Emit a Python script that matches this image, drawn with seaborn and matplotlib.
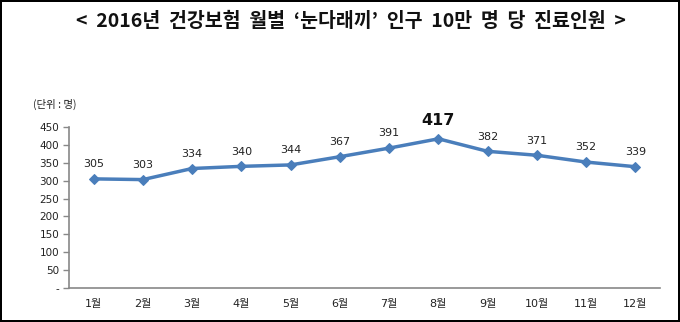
import matplotlib
matplotlib.use("Agg")
import matplotlib.pyplot as plt
import seaborn as sns
import pandas as pd
import numpy as np

months = ["1월", "2월", "3월", "4월", "5월", "6월", "7월", "8월", "9월", "10월", "11월", "12월"]
values = [305, 303, 334, 340, 344, 367, 391, 417, 382, 371, 352, 339]
yticks = [0, 50, 100, 150, 200, 250, 300, 350, 400, 450]
ytick_labels = ["-", "50", "100", "150", "200", "250", "300", "350", "400", "450"]

sns.set_theme(style="white")
plt.rcParams['font.family'] = ['DejaVu Sans', 'Noto Sans CJK KR']

df = pd.DataFrame({"month": months, "value": values, "x": range(len(months))})

fig = plt.figure(figsize=(6.8, 3.22), dpi=100)
fig.patch.set_edgecolor("black")
fig.patch.set_linewidth(1.5)
ax = fig.add_axes([69/680, 1-288/322, (660-69)/680, (288-127)/322])

color = "#4A7EBB"
sns.lineplot(data=df, x="x", y="value", ax=ax, color=color, linewidth=2.5,
             marker="D", markersize=5.5, markeredgecolor=color, markerfacecolor=color)

ax.set_xlim(-0.5, 11.5)
ax.set_ylim(0, 450)
ax.set_yticks(yticks)
ax.set_yticklabels(ytick_labels, fontsize=7.5, color="#222222")
ax.set_xticks(range(len(months)))
ax.set_xticklabels(months, fontsize=8, color="#222222", family=['DejaVu Sans', 'Noto Sans CJK KR'])
ax.set_xticks(np.arange(-0.5, 12, 1), minor=True)
ax.tick_params(axis="x", which="major", length=0, pad=8)
ax.tick_params(axis="x", which="minor", length=4, color="#888888", width=1, direction="out")
ax.tick_params(axis="y", which="major", length=4, color="#888888", width=1, direction="out", left=True, pad=3)
ax.set_xlabel("")
ax.set_ylabel("")
for s in ["top", "right"]:
    ax.spines[s].set_visible(False)
for s in ["left", "bottom"]:
    ax.spines[s].set_color("#888888")
    ax.spines[s].set_linewidth(1.2)
ax.grid(False)

for i, v in enumerate(values):
    if v == max(values):
        ax.annotate(str(v), (i, v), xytext=(0, 8), textcoords="offset points",
                    ha="center", va="bottom", fontsize=11.5, fontweight="bold", color="#111111")
    else:
        ax.annotate(str(v), (i, v), xytext=(0, 7), textcoords="offset points",
                    ha="center", va="bottom", fontsize=8, color="#222222")

fig.text(33/680, 1-104/322, "(단위 : 명)", fontsize=7.5, color="#222222",
         ha="left", va="center", family=['Noto Sans CJK KR', 'DejaVu Sans'])
fig.text(351/680, 1-21/322, "<  2016년  건강보험  월별  ‘눈다래끼’  인구  10만  명  당  진료인원  >",
         fontsize=14, fontweight="bold", ha="center", va="center", color="#111111",
         family=['Noto Sans CJK KR', 'DejaVu Sans'])

fig.savefig("out.png", dpi=100, edgecolor=fig.get_edgecolor())
